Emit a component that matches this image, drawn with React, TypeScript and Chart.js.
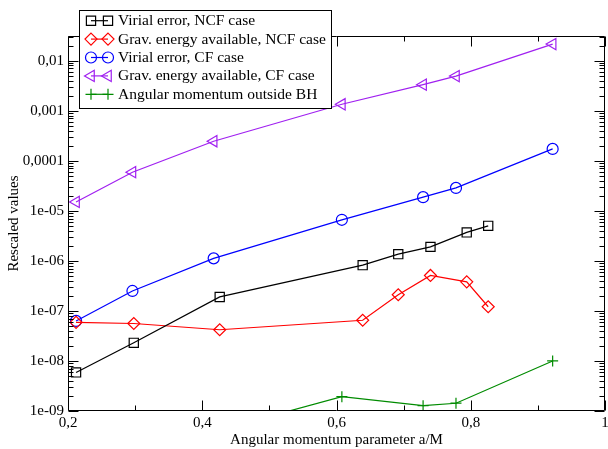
import React, { useEffect, useRef } from "react";
import { Chart, registerables } from "chart.js";

Chart.register(...registerables);

const FONT = "'Liberation Serif', 'Times New Roman', serif";

// ---- data ----
const seriesNames = [
  "Virial error, NCF case",
  "Grav. energy available, NCF case",
  "Virial error, CF case",
  "Grav. energy available, CF case",
  "Angular momentum outside BH",
];
const ncfSpin = [0.212, 0.298, 0.426, 0.639, 0.692, 0.74, 0.794, 0.826];
const virialNCF = [5.9e-9, 2.3e-8, 1.9e-7, 8.2e-7, 1.36e-6, 1.9e-6, 3.7e-6, 5.0e-6];
const gravNCF = [5.9e-8, 5.6e-8, 4.2e-8, 6.5e-8, 2.1e-7, 5.1e-7, 3.8e-7, 1.21e-7];
const cfSpin = [0.212, 0.296, 0.417, 0.608, 0.729, 0.778, 0.922];
const virialCF = [6.3e-8, 2.5e-7, 1.12e-6, 6.6e-6, 1.87e-5, 2.86e-5, 1.72e-4];
const gravCF = [1.5e-5, 5.9e-5, 2.45e-4, 1.34e-3, 3.3e-3, 4.9e-3, 0.0214];
const angSpin = [0.417, 0.608, 0.729, 0.778, 0.922];
const angMomentum = [3.9e-10, 1.93e-9, 1.28e-9, 1.43e-9, 1.0e-8];

const xTickValues = [0.2, 0.4, 0.6, 0.8, 1];
const xTickLabels = ["0,2", "0,4", "0,6", "0,8", "1"];
const yTickValues = [1e-9, 1e-8, 1e-7, 1e-6, 1e-5, 1e-4, 1e-3, 1e-2];
const yTickLabels = ["1e-09", "1e-08", "1e-07", "1e-06", "1e-05", "0,0001", "0,001", "0,01"];

const xTitle = "Angular momentum parameter a/M";
const yTitle = "Rescaled values";

// ---- styles ----
const colors = ["#000000", "#ff0000", "#0000ff", "#a020f0", "#008b00"];
const markers = ["square", "diamond", "circle", "triangleLeft", "plus"];

function toPoints(xs: number[], ys: number[]) {
  return xs.map((x, i) => ({ x, y: ys[i] }));
}

const chartStyle: Record<string, any> = {
  square: { pointStyle: "rect", pointRadius: 6.5, pointRotation: 0 },
  diamond: { pointStyle: "rectRot", pointRadius: 6, pointRotation: 0 },
  circle: { pointStyle: "circle", pointRadius: 5.5, pointRotation: 0 },
  triangleLeft: { pointStyle: "triangle", pointRadius: 6.5, pointRotation: -90 },
  plus: { pointStyle: "cross", pointRadius: 5.5, pointRotation: 0 },
};

function drawMarker(ctx: CanvasRenderingContext2D, kind: string, x: number, y: number) {
  ctx.beginPath();
  if (kind === "square") {
    ctx.rect(x - 4.6, y - 4.6, 9.2, 9.2);
  } else if (kind === "diamond") {
    ctx.moveTo(x, y - 6);
    ctx.lineTo(x + 6, y);
    ctx.lineTo(x, y + 6);
    ctx.lineTo(x - 6, y);
    ctx.closePath();
  } else if (kind === "circle") {
    ctx.arc(x, y, 5.5, 0, Math.PI * 2);
  } else if (kind === "triangleLeft") {
    const r = 6.5;
    ctx.moveTo(x - r, y);
    ctx.lineTo(x + r / 2, y - r * 0.866);
    ctx.lineTo(x + r / 2, y + r * 0.866);
    ctx.closePath();
  } else if (kind === "plus") {
    ctx.moveTo(x - 5.5, y);
    ctx.lineTo(x + 5.5, y);
    ctx.moveTo(x, y - 5.5);
    ctx.lineTo(x, y + 5.5);
  }
  ctx.stroke();
}

const framePlugin = {
  id: "graceFrame",
  afterDraw(chart: any) {
    const ctx: CanvasRenderingContext2D = chart.ctx;
    const { left, right, top, bottom } = chart.chartArea;
    const xs = chart.scales.x;
    const ys = chart.scales.y;
    ctx.save();
    ctx.strokeStyle = "#000";
    ctx.lineWidth = 1;
    const L = Math.round(left) + 0.5;
    const R = Math.round(right) - 0.5;
    const T = Math.round(top) + 0.5;
    const B = Math.round(bottom) - 0.5;
    ctx.beginPath();
    ctx.rect(L, T, R - L, B - T);
    ctx.stroke();

    // x ticks (major every 0.2, minor every 0.1)
    ctx.beginPath();
    for (let i = 0; i <= 8; i++) {
      const v = 0.2 + i * 0.1;
      const px = Math.round(xs.getPixelForValue(v)) + 0.5;
      const len = i % 2 === 0 ? 10 : 5;
      ctx.moveTo(px, B);
      ctx.lineTo(px, B - len);
      ctx.moveTo(px, T);
      ctx.lineTo(px, T + len);
    }
    // y ticks
    for (let d = -9; d <= -2; d++) {
      for (let k = 1; k <= 9; k++) {
        const v = k * Math.pow(10, d);
        if (v > ys.max) continue;
        const py = Math.round(ys.getPixelForValue(v)) + 0.5;
        const len = k === 1 ? 10 : 5;
        ctx.moveTo(L, py);
        ctx.lineTo(L + len, py);
        ctx.moveTo(R, py);
        ctx.lineTo(R - len, py);
      }
    }
    ctx.stroke();

    // x tick labels
    ctx.fillStyle = "#000";
    ctx.font = `15px ${FONT}`;
    ctx.textAlign = "center";
    ctx.textBaseline = "middle";
    xTickValues.forEach((v, i) => {
      ctx.fillText(xTickLabels[i], xs.getPixelForValue(v), 423);
    });

    // axis titles
    ctx.fillText(xTitle, (left + right) / 2, 440);
    ctx.save();
    ctx.translate(14, (top + bottom) / 2);
    ctx.rotate(-Math.PI / 2);
    ctx.fillText(yTitle, 0, 0);
    ctx.restore();

    // legend
    ctx.fillStyle = "#fff";
    ctx.fillRect(79.5, 10.5, 252, 98);
    ctx.strokeStyle = "#000";
    ctx.strokeRect(79.5, 10.5, 252, 98);
    ctx.font = `15.5px ${FONT}`;
    ctx.textAlign = "left";
    ctx.textBaseline = "middle";
    seriesNames.forEach((name, i) => {
      const yc = 20.7 + i * 18.4;
      ctx.strokeStyle = colors[i];
      ctx.lineWidth = 1.2;
      ctx.beginPath();
      ctx.moveTo(91, yc);
      ctx.lineTo(108, yc);
      ctx.stroke();
      drawMarker(ctx, markers[i], 91, yc);
      drawMarker(ctx, markers[i], 108, yc);
      ctx.fillStyle = "#000";
      ctx.fillText(name, 118, yc + 0.5);
    });
    ctx.restore();
  },
};

export default function App() {
  const canvasRef = useRef<HTMLCanvasElement | null>(null);

  useEffect(() => {
    if (!canvasRef.current) return;
    const seriesData = [
      toPoints(ncfSpin, virialNCF),
      toPoints(ncfSpin, gravNCF),
      toPoints(cfSpin, virialCF),
      toPoints(cfSpin, gravCF),
      toPoints(angSpin, angMomentum),
    ];
    const datasets = seriesNames.map((name, i) => ({
      label: name,
      data: seriesData[i],
      borderColor: colors[i],
      borderWidth: 1.2,
      pointBorderColor: colors[i],
      pointBackgroundColor: "rgba(0,0,0,0)",
      pointBorderWidth: 1.2,
      pointHoverRadius: 6,
      tension: 0,
      fill: false,
      ...chartStyle[markers[i]],
    }));

    const chart = new Chart(canvasRef.current, {
      type: "line",
      data: { datasets },
      plugins: [framePlugin],
      options: {
        animation: false,
        responsive: false,
        devicePixelRatio: 1,
        layout: { autoPadding: false, padding: { left: 0, top: 36, right: 3, bottom: 0 } },
        plugins: { legend: { display: false }, tooltip: { enabled: false } },
        scales: {
          x: {
            type: "linear",
            min: 0.2,
            max: 1,
            grid: { display: false, drawTicks: false },
            border: { display: false },
            afterBuildTicks: (scale: any) => {
              scale.ticks = xTickValues.map((v) => ({ value: v }));
            },
            afterFit: (scale: any) => {
              scale.height = 38;
              scale.paddingLeft = 0;
              scale.paddingRight = 0;
            },
            ticks: { display: false },
          },
          y: {
            type: "logarithmic",
            min: 1e-9,
            max: 0.031,
            grid: { display: false, drawTicks: false },
            border: { display: false },
            afterBuildTicks: (scale: any) => {
              scale.ticks = yTickValues.map((v) => ({ value: v }));
            },
            afterFit: (scale: any) => {
              scale.width = 68;
              scale.paddingTop = 0;
              scale.paddingBottom = 0;
            },
            ticks: {
              autoSkip: false,
              padding: 4,
              color: "#000",
              font: { family: FONT, size: 15 },
              callback: (_v: any, i: number) => yTickLabels[i],
            },
          },
        },
      },
    });
    return () => chart.destroy();
  }, []);

  return (
    <div style={{ position: "absolute", left: 0, top: 0, width: 608, height: 449, background: "#fff" }}>
      <canvas ref={canvasRef} width={608} height={449} style={{ display: "block" }} />
    </div>
  );
}
